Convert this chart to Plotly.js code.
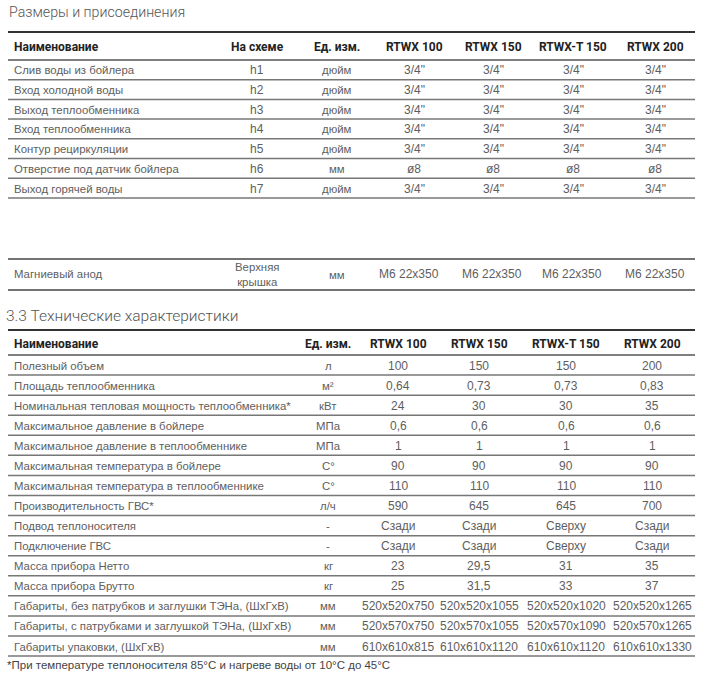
<!DOCTYPE html>
<html>
<head>
<meta charset="utf-8">
<script src="https://cdn.plot.ly/plotly-3.0.1.min.js"></script>
<style>html,body{margin:0;padding:0;background:#fff;}#chart{width:711px;height:675px;}</style>
</head>
<body>
<div id="chart"></div>
<script>
// ---------- DATA ----------
const title1 = "Размеры и присоединения";
const title2 = "3.3 Технические характеристики";
const models = ["RTWX 100", "RTWX 150", "RTWX-T 150", "RTWX 200"];

const t1Header = ["Наименование", "На схеме", "Ед. изм."];
const t1Names = ["Слив воды из бойлера", "Вход холодной воды", "Выход теплообменника", "Вход теплообменника", "Контур рециркуляции", "Отверстие под датчик бойлера", "Выход горячей воды"];
const t1Scheme = ["h1", "h2", "h3", "h4", "h5", "h6", "h7"];
const t1Units = ["дюйм", "дюйм", "дюйм", "дюйм", "дюйм", "мм", "дюйм"];
const t1RTWX100 = ["3/4\"", "3/4\"", "3/4\"", "3/4\"", "3/4\"", "ø8", "3/4\""];
const t1RTWX150 = ["3/4\"", "3/4\"", "3/4\"", "3/4\"", "3/4\"", "ø8", "3/4\""];
const t1RTWXT150 = ["3/4\"", "3/4\"", "3/4\"", "3/4\"", "3/4\"", "ø8", "3/4\""];
const t1RTWX200 = ["3/4\"", "3/4\"", "3/4\"", "3/4\"", "3/4\"", "ø8", "3/4\""];

const anodeName = "Магниевый анод";
const anodeScheme = "Верхняя<br>крышка";
const anodeUnit = "мм";
const anodeValues = ["M6 22x350", "M6 22x350", "M6 22x350", "M6 22x350"];

const t2Header = ["Наименование", "Ед. изм."];
const t2Names = ["Полезный объем", "Площадь теплообменника", "Номинальная тепловая мощность теплообменника*", "Максимальное давление в бойлере", "Максимальное давление в теплообменнике", "Максимальная температура в бойлере", "Максимальная температура в теплообменнике", "Производительность ГВС*", "Подвод теплоносителя", "Подключение ГВС", "Масса прибора Нетто", "Масса прибора Брутто", "Габариты, без патрубков и заглушки ТЭНа, (ШхГхВ)", "Габариты, с патрубками и заглушкой ТЭНа, (ШхГхВ)", "Габариты упаковки, (ШхГхВ)"];
const t2Units = ["л", "м²", "кВт", "МПа", "МПа", "С°", "С°", "л/ч", "-", "-", "кг", "кг", "мм", "мм", "мм"];
const t2RTWX100 = ["100", "0,64", "24", "0,6", "1", "90", "110", "590", "Сзади", "Сзади", "23", "25", "520x520x750", "520x570x750", "610x610x815"];
const t2RTWX150 = ["150", "0,73", "30", "0,6", "1", "90", "110", "645", "Сзади", "Сзади", "29,5", "31,5", "520x520x1055", "520x570x1055", "610x610x1120"];
const t2RTWXT150 = ["150", "0,73", "30", "0,6", "1", "90", "110", "645", "Сверху", "Сверху", "31", "33", "520x520x1020", "520x570x1090", "610x610x1120"];
const t2RTWX200 = ["200", "0,83", "35", "0,6", "1", "90", "110", "700", "Сзади", "Сзади", "35", "37", "520x520x1265", "520x570x1265", "610x610x1330"];
const footnote = "*При температуре теплоносителя 85°C и нагреве воды от 10°C до 45°C";

// ---------- LAYOUT HELPERS ----------
const nameFont = {family: "Liberation Sans, Arial, sans-serif", size: 11.4, color: "#5e5e5e"};
const bodyFont = {family: "Liberation Sans, Arial, sans-serif", size: 12, color: "#5e5e5e"};
const headFont = {family: "Roboto, sans-serif", size: 12, color: "#222", weight: 700};
const title1Font = {family: "Roboto, sans-serif", size: 14.2, color: "#555", weight: 300};
const title2Font = {family: "Roboto, sans-serif", size: 15.5, color: "#555", weight: 300};

const ann = [];
const shapes = [];
function txt(x, y, text, font, anchor) {
  ann.push({x: x, y: y, xref: "x", yref: "y", text: text, showarrow: false,
    xanchor: anchor || "center", yanchor: "middle", font: font});
}
function hline(y, color, w) {
  shapes.push({type: "line", xref: "x", yref: "y", x0: 8, x1: 695, y0: y, y1: y,
    line: {color: color, width: w}});
}

// Table 1
const t1Vals = [t1RTWX100, t1RTWX150, t1RTWXT150, t1RTWX200];
const t1X = {name: 12, scheme: 257, unit: 337, models: [414, 493, 573, 655]};
txt(7, 12, title1, title1Font, "left");
hline(32, "#333", 2);
txt(t1X.name, 47, t1Header[0], headFont, "left");
txt(t1X.scheme, 47, t1Header[1], headFont);
txt(t1X.unit, 47, t1Header[2], headFont);
models.forEach((m, j) => txt(t1X.models[j], 47, m, headFont));
hline(60, "#555", 1.5);
const rh1 = 19.7;
t1Names.forEach((n, i) => {
  const yc = 60 + rh1 * i + rh1 / 2 + 0.5;
  txt(t1X.name, yc, n, nameFont, "left");
  txt(t1X.scheme, yc, t1Scheme[i], bodyFont);
  txt(t1X.unit, yc, t1Units[i], nameFont);
  t1Vals.forEach((col, j) => txt(t1X.models[j], yc, col[i], bodyFont));
  hline(60 + rh1 * (i + 1), "#777", 1.5);
});

// Anode row
hline(259, "#444", 1.5);
txt(t1X.name, 274, anodeName, nameFont, "left");
txt(t1X.scheme, 274, anodeScheme, nameFont);
txt(t1X.unit, 275, anodeUnit, nameFont);
anodeValues.forEach((v, j) => txt([409, 492, 572, 655][j], 274, v, bodyFont));
hline(290, "#444", 1.5);

// Table 2
const t2Vals = [t2RTWX100, t2RTWX150, t2RTWXT150, t2RTWX200];
const t2X = {name: 12, unit: 328, models: [398, 479, 566, 652]};
txt(4, 316, title2, title2Font, "left");
hline(330, "#333", 2);
txt(t2X.name, 344, t2Header[0], headFont, "left");
txt(t2X.unit, 344, t2Header[1], headFont);
models.forEach((m, j) => txt(t2X.models[j], 344, m, headFont));
hline(355, "#555", 1.5);
const rh2 = 20.07;
t2Names.forEach((n, i) => {
  const yc = 355 + rh2 * i + rh2 / 2 + 0.5;
  txt(t2X.name, yc, n, nameFont, "left");
  txt(t2X.unit, yc, t2Units[i], nameFont);
  t2Vals.forEach((col, j) => txt(t2X.models[j], yc, col[i], bodyFont));
  hline(355 + rh2 * (i + 1), "#777", 1.5);
});
txt(5, 665, footnote, {family: "Liberation Sans, Arial, sans-serif", size: 11.5, color: "#444"}, "left");

const layout = {
  width: 711, height: 675,
  margin: {l: 0, r: 0, t: 0, b: 0},
  paper_bgcolor: "#fff", plot_bgcolor: "#fff",
  xaxis: {range: [0, 711], visible: false, fixedrange: true},
  yaxis: {range: [675, 0], visible: false, fixedrange: true},
  showlegend: false,
  annotations: ann,
  shapes: shapes
};
Plotly.newPlot("chart", [{x: [], y: [], type: "scatter"}], layout, {staticPlot: true});
</script>
</body>
</html>
